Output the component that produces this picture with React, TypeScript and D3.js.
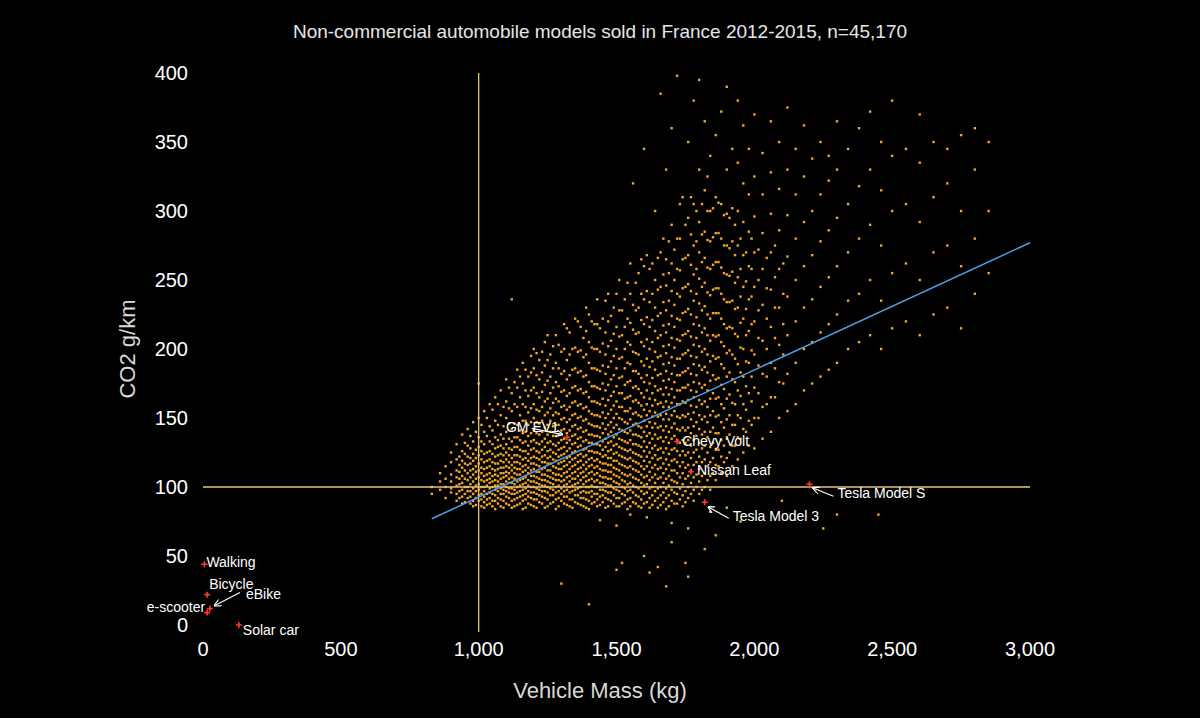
import React from "react";
import * as d3 from "d3";

// Vehicle mass columns (kg) with CO2 values (g/km)
const columns: [number, number[]][] = [
  [830, [95, 100]], [860, [98, 104, 110]], [880, [92, 100, 106, 115]],
  [900, [96, 99, 104, 109, 118, 125]], [920, [90, 95, 101, 107, 112, 120, 131]],
  [940, [88, 93, 98, 103, 108, 114, 119, 126, 138]], [960, [92, 97, 100, 105, 110, 116, 122, 130, 142]],
  [980, [86, 90, 95, 99, 104, 109, 113, 119, 124, 133, 147]], [1000, [90, 94, 98, 102, 107, 112, 117, 123, 129, 136, 150, 175]],
  [1020, [85, 89, 93, 97, 100, 104, 108, 113, 118, 124, 131, 140, 155]],
  [1040, [88, 92, 96, 99, 103, 106, 110, 115, 120, 126, 133, 144, 160]],
  [1060, [84, 90, 94, 98, 101, 105, 109, 112, 117, 122, 128, 136, 148, 165]],
  [1080, [86, 91, 95, 99, 102, 106, 110, 114, 119, 124, 130, 138, 152, 170]],
  [1100, [88, 93, 97, 100, 104, 108, 111, 115, 120, 125, 131, 140, 150, 162, 178]],
  [1120, [85, 90, 95, 99, 103, 107, 112, 116, 121, 127, 133, 142, 155, 168, 236]],
  [1140, [87, 92, 96, 100, 104, 109, 113, 118, 123, 129, 136, 145, 158, 172, 185]],
  [1160, [84, 90, 94, 98, 102, 106, 111, 115, 120, 126, 132, 139, 148, 160, 175, 190]],
  [1180, [88, 93, 97, 101, 105, 110, 114, 119, 124, 130, 137, 145, 154, 166, 180]],
  [1200, [86, 91, 96, 100, 104, 108, 113, 117, 122, 128, 134, 141, 150, 160, 172, 186, 200]],
  [1220, [89, 94, 98, 102, 106, 111, 115, 120, 125, 131, 138, 146, 155, 165, 178, 192]],
  [1240, [85, 92, 97, 101, 105, 109, 114, 118, 123, 129, 135, 143, 152, 162, 174, 188, 205]],
  [1260, [88, 94, 99, 103, 107, 112, 117, 122, 127, 133, 140, 148, 157, 168, 180, 196]],
  [1280, [84, 91, 96, 100, 105, 109, 114, 119, 124, 130, 137, 145, 154, 164, 176, 190, 210]],
  [1300, [90, 95, 99, 104, 108, 113, 118, 123, 128, 134, 141, 149, 158, 169, 182, 198]],
  [1320, [87, 93, 98, 102, 107, 111, 116, 121, 126, 132, 139, 147, 156, 166, 178, 192, 215]],
  [1340, [85, 91, 97, 101, 106, 110, 115, 120, 125, 131, 137, 144, 152, 161, 172, 185, 200]],
  [1360, [88, 94, 99, 103, 108, 113, 118, 123, 129, 135, 142, 150, 159, 170, 183, 198, 220]],
  [1380, [86, 92, 97, 102, 107, 111, 116, 122, 127, 133, 140, 148, 157, 168, 180, 194, 208]],
  [1400, [84, 90, 96, 100, 105, 110, 115, 120, 126, 132, 138, 146, 155, 165, 176, 190, 205, 225]],
  [1420, [89, 95, 100, 104, 109, 114, 119, 125, 131, 137, 144, 152, 162, 173, 186, 200, 218]],
  [1440, [87, 93, 98, 103, 108, 113, 118, 124, 130, 136, 143, 151, 160, 171, 184, 198, 215]],
  [1460, [85, 92, 97, 102, 107, 112, 117, 123, 129, 135, 142, 150, 159, 170, 182, 196, 212, 235]],
  [1480, [90, 96, 101, 106, 111, 116, 121, 127, 133, 140, 147, 156, 166, 178, 191, 206, 224]],
  [1500, [86, 92, 98, 103, 108, 113, 119, 125, 131, 138, 145, 153, 162, 173, 186, 200, 216, 240]],
  [1520, [88, 95, 100, 105, 110, 116, 122, 128, 134, 141, 149, 158, 168, 180, 194, 210, 228]],
  [1540, [84, 91, 97, 102, 108, 114, 120, 126, 132, 139, 146, 155, 165, 176, 190, 205, 222, 248]],
  [1560, [89, 96, 101, 107, 113, 119, 125, 131, 138, 145, 153, 162, 172, 184, 198, 214, 232, 320]],
  [1580, [86, 93, 99, 105, 111, 117, 123, 130, 137, 144, 152, 161, 171, 182, 196, 212, 230, 255]],
  [1600, [88, 95, 101, 107, 113, 119, 126, 133, 140, 148, 156, 165, 176, 188, 202, 218, 236, 260, 345]],
  [1620, [85, 92, 99, 105, 111, 118, 125, 132, 139, 147, 155, 164, 175, 187, 200, 216, 234, 258]],
  [1640, [90, 97, 103, 109, 116, 123, 130, 138, 146, 154, 163, 173, 185, 198, 213, 230, 250, 300]],
  [1660, [87, 94, 100, 107, 114, 121, 128, 136, 144, 152, 161, 171, 182, 195, 210, 226, 245, 270, 385]],
  [1680, [84, 92, 99, 106, 113, 120, 128, 136, 144, 153, 162, 172, 184, 197, 212, 228, 246, 265, 330]],
  [1700, [90, 98, 105, 112, 119, 127, 135, 143, 152, 161, 171, 182, 194, 208, 224, 242, 262, 290, 360]],
  [1720, [88, 95, 103, 110, 118, 126, 134, 142, 151, 160, 170, 181, 193, 207, 222, 240, 258, 280, 398]],
  [1740, [86, 94, 102, 110, 118, 126, 134, 143, 152, 162, 172, 183, 196, 210, 226, 244, 265, 310]],
  [1760, [92, 100, 108, 116, 125, 134, 143, 153, 163, 174, 186, 199, 213, 229, 247, 268, 295, 350]],
  [1780, [90, 98, 107, 116, 125, 134, 144, 154, 165, 176, 189, 203, 218, 235, 254, 275, 305, 380]],
  [1800, [95, 104, 113, 122, 132, 142, 152, 163, 175, 188, 202, 217, 233, 251, 270, 292, 330, 395]],
  [1820, [100, 110, 120, 130, 140, 151, 162, 174, 187, 200, 215, 231, 248, 266, 285, 315, 365]],
  [1840, [98, 108, 118, 129, 140, 152, 164, 177, 191, 206, 222, 239, 258, 278, 300, 340]],
  [1860, [105, 116, 127, 139, 151, 164, 178, 193, 209, 226, 244, 263, 284, 310, 355]],
  [1880, [110, 122, 134, 147, 160, 174, 189, 205, 222, 240, 259, 280, 305, 372]],
  [1900, [108, 121, 135, 149, 164, 180, 197, 215, 234, 254, 275, 298, 330, 390]],
  [1920, [115, 130, 145, 161, 178, 196, 215, 235, 256, 278, 302, 345]],
  [1940, [120, 136, 152, 170, 189, 209, 230, 252, 275, 300, 335, 380]],
  [1960, [125, 142, 160, 180, 200, 222, 245, 268, 292, 320, 362]],
  [1980, [130, 148, 168, 190, 213, 236, 260, 285, 312, 345]],
  [2000, [128, 150, 172, 196, 220, 245, 270, 296, 325, 370]],
  [2030, [135, 158, 182, 206, 232, 258, 284, 312, 342]],
  [2060, [140, 165, 190, 216, 243, 270, 298, 328, 365]],
  [2090, [150, 176, 203, 230, 258, 286, 316, 350]],
  [2120, [155, 182, 210, 238, 267, 297, 330, 375]],
  [2150, [160, 190, 220, 250, 280, 312, 345]],
  [2180, [170, 200, 230, 260, 292, 325, 362]],
  [2210, [175, 205, 236, 268, 300, 338]],
  [2240, [180, 212, 245, 278, 312, 350]],
  [2270, [185, 218, 252, 286, 322, 340]],
  [2300, [190, 225, 260, 295, 330, 365]],
  [2340, [200, 235, 270, 305, 345]],
  [2380, [205, 240, 280, 318, 360]],
  [2420, [210, 250, 290, 330, 372]],
  [2460, [200, 235, 275, 315, 350]],
  [2500, [215, 255, 300, 340, 380]],
  [2550, [220, 262, 305, 345]],
  [2600, [210, 250, 292, 335, 370]],
  [2650, [225, 270, 310, 350]],
  [2700, [230, 275, 320, 345]],
  [2750, [215, 260, 300, 355]],
  [2800, [240, 280, 330, 360]],
  [2850, [255, 300, 350]],
];
// further columns filling the dense core of the cloud
const coreColumns: [number, number[]][] = [
  [930, [92, 97, 102, 106, 111, 116, 122]], [950, [89, 95, 100, 106, 112, 117, 124, 132]],
  [970, [88, 93, 97, 102, 107, 112, 117, 121, 128, 137]], [990, [87, 92, 97, 101, 106, 111, 115, 121, 127, 140]],
  [1010, [86, 91, 95, 100, 105, 110, 114, 120, 126, 133, 145]], [1030, [87, 91, 95, 101, 105, 109, 114, 119, 125, 137, 150]],
  [1050, [86, 90, 95, 100, 104, 108, 113, 118, 124, 131, 141, 156]], [1070, [88, 92, 97, 101, 104, 108, 113, 117, 123, 129, 134, 145, 160]],
  [1090, [85, 90, 95, 98, 102, 107, 110, 114, 118, 123, 128, 135, 144, 158]], [1110, [87, 92, 96, 99, 103, 106, 110, 114, 118, 123, 128, 135, 146, 157, 172]],
  [1130, [86, 91, 95, 98, 102, 106, 110, 114, 118, 123, 129, 136, 146, 160, 176]], [1150, [88, 93, 97, 101, 105, 109, 113, 117, 122, 127, 134, 141, 152, 165, 180]],
  [1170, [85, 91, 95, 99, 103, 107, 112, 116, 121, 126, 133, 140, 148, 158, 170, 185]], [1190, [87, 92, 96, 100, 104, 108, 112, 117, 121, 127, 133, 139, 147, 157, 170, 183, 195]],
  [1210, [85, 91, 95, 99, 103, 107, 111, 116, 121, 126, 132, 139, 147, 156, 168, 181, 197]], [1230, [88, 93, 97, 101, 105, 109, 113, 118, 122, 127, 133, 140, 148, 158, 169, 183, 198]],
  [1250, [86, 91, 96, 100, 104, 108, 112, 117, 121, 126, 132, 138, 145, 154, 164, 177, 192, 210]], [1270, [89, 94, 98, 102, 106, 110, 115, 120, 125, 131, 137, 144, 152, 161, 172, 186, 202]],
  [1290, [86, 92, 97, 101, 105, 109, 113, 117, 122, 127, 132, 138, 145, 153, 162, 173, 186, 203]], [1310, [88, 93, 97, 101, 105, 110, 115, 119, 124, 129, 135, 142, 150, 159, 170, 184, 200, 218]],
  [1330, [86, 91, 96, 100, 104, 108, 113, 118, 122, 128, 134, 141, 149, 158, 168, 181, 196, 212]], [1350, [89, 94, 98, 102, 106, 111, 116, 121, 126, 132, 138, 145, 153, 162, 173, 186, 201, 222]],
  [1370, [87, 92, 96, 100, 105, 110, 114, 119, 124, 130, 136, 143, 151, 160, 171, 184, 199, 216]], [1390, [85, 91, 96, 100, 104, 108, 113, 118, 123, 128, 134, 141, 149, 158, 169, 181, 196, 213, 230]],
  [1410, [88, 93, 97, 101, 106, 111, 116, 121, 126, 132, 138, 145, 153, 162, 173, 186, 201, 220]], [1430, [86, 91, 95, 100, 105, 110, 115, 120, 125, 131, 137, 144, 152, 161, 172, 185, 200, 218, 236]],
  [1450, [89, 94, 98, 103, 107, 112, 117, 122, 127, 133, 139, 146, 154, 164, 175, 188, 204, 222]], [1470, [86, 91, 96, 101, 106, 111, 116, 121, 126, 132, 138, 145, 153, 163, 174, 187, 202, 220, 240]],
  [1490, [88, 94, 99, 104, 109, 114, 119, 124, 130, 136, 143, 150, 159, 169, 181, 195, 211, 230]], [1510, [86, 92, 97, 102, 107, 112, 117, 123, 129, 135, 142, 150, 158, 168, 179, 193, 209, 228, 250]],
  [1530, [89, 94, 99, 104, 109, 115, 121, 127, 133, 140, 147, 155, 164, 174, 186, 200, 216, 236]], [1550, [86, 92, 98, 103, 109, 115, 121, 127, 134, 141, 149, 157, 166, 177, 189, 203, 219, 240, 262]],
  [1570, [88, 94, 100, 106, 112, 118, 124, 131, 138, 146, 154, 163, 173, 184, 197, 211, 228, 248]], [1590, [85, 91, 97, 103, 109, 115, 122, 129, 136, 143, 151, 159, 168, 179, 191, 205, 221, 240, 265]],
  [1610, [89, 96, 102, 108, 115, 122, 129, 137, 144, 152, 160, 170, 181, 193, 207, 223, 242, 268]], [1630, [87, 94, 100, 107, 114, 121, 128, 135, 143, 151, 159, 168, 179, 191, 205, 221, 240, 262]],
  [1650, [85, 92, 99, 106, 113, 120, 127, 135, 143, 151, 160, 170, 181, 194, 208, 224, 243, 266]], [1670, [89, 96, 103, 110, 117, 125, 133, 141, 149, 158, 167, 177, 189, 202, 217, 234, 254, 280]],
  [1690, [86, 94, 101, 108, 116, 124, 132, 140, 149, 158, 167, 178, 190, 203, 218, 235, 255, 278]], [1710, [88, 96, 104, 112, 120, 128, 137, 146, 155, 165, 176, 188, 201, 216, 232, 250, 272]],
  [1730, [91, 99, 107, 115, 123, 132, 141, 150, 160, 170, 181, 193, 206, 221, 238, 257, 280, 305]], [1750, [89, 97, 106, 114, 123, 132, 141, 151, 161, 172, 184, 197, 211, 227, 245, 266, 290]],
  [1770, [95, 103, 112, 121, 130, 139, 149, 159, 170, 182, 195, 209, 225, 242, 261, 283, 310]], [1790, [100, 109, 118, 127, 137, 147, 158, 169, 181, 194, 208, 223, 240, 258, 278, 300]],
  [1810, [98, 108, 118, 128, 138, 149, 160, 172, 185, 198, 212, 228, 245, 263, 283, 305]], [1830, [105, 115, 125, 136, 147, 158, 170, 183, 196, 210, 225, 241, 259, 279, 300, 325]],
  [1850, [110, 121, 132, 143, 155, 168, 181, 195, 210, 226, 243, 261, 281, 302]], [1870, [115, 127, 139, 152, 165, 179, 194, 210, 226, 244, 263, 284, 306]],
  [1890, [118, 130, 143, 157, 171, 186, 202, 218, 236, 255, 275, 297]], [1910, [125, 138, 152, 167, 183, 199, 216, 234, 253, 273, 295]],
  [1930, [130, 145, 160, 176, 193, 211, 229, 248, 268, 290]], [1950, [135, 150, 166, 183, 201, 219, 238, 258, 280]],
  [1970, [140, 156, 173, 191, 210, 229, 249, 270]], [1990, [145, 162, 180, 199, 218, 238, 258, 280]],
  [2015, [150, 168, 188, 208, 228, 250, 272]], [2045, [160, 180, 200, 222, 244, 266]],
  [2075, [165, 186, 208, 230, 252, 275]], [2105, [175, 196, 218, 240, 262]],
];
// isolated low outliers
const outliers: [number, number][] = [
  [1300, 30], [1500, 40], [1520, 45], [1600, 50], [1650, 42], [1620, 38], [1700, 60], [1750, 45], [1820, 55], [1860, 65], [2300, 80], [2450, 80], [2250, 70], [1950, 75], [2100, 90], [1400, 15], [1680, 28], [1760, 35],
  [1440, 76], [1500, 72], [1550, 80], [1610, 78], [1700, 74], [1760, 70], [1840, 82], [1900, 85],
];

const special: { name: string; mass: number; co2: number }[] = [
  { name: "Walking", mass: 5, co2: 44 },
  { name: "Bicycle", mass: 15, co2: 22 },
  { name: "eBike", mass: 25, co2: 12 },
  { name: "e-scooter", mass: 15, co2: 9 },
  { name: "Solar car", mass: 130, co2: 0 },
  { name: "GM EV1", mass: 1320, co2: 136 },
  { name: "Chevy Volt", mass: 1720, co2: 133 },
  { name: "Nissan Leaf", mass: 1770, co2: 111 },
  { name: "Tesla Model 3", mass: 1820, co2: 89 },
  { name: "Tesla Model S", mass: 2200, co2: 102 },
];
const fitLine: [number, number][] = [[830, 77], [3000, 277]];
const xTicks = [0, 500, 1000, 1500, 2000, 2500, 3000];
const yTicks = [0, 50, 100, 150, 200, 250, 300, 350, 400];

export default function App() {
  const W = 1200, H = 718;
  const x = d3.scaleLinear().domain([0, 3000]).range([203, 1030]);
  const y = d3.scaleLinear().domain([0, 400]).range([625, 73]);
  const pts: [number, number][] = [];
  columns.forEach(([m, vs]) => vs.forEach((v) => pts.push([m, v])));
  coreColumns.forEach(([m, vs]) => vs.forEach((v) => pts.push([m, v])));
  outliers.forEach((p) => pts.push(p));
  const line = d3.line<[number, number]>().x((d) => x(d[0])).y((d) => y(d[1]));
  const font = "Helvetica, Arial, 'Liberation Sans', sans-serif";
  const sp = (n: string) => special.find((s) => s.name === n)!;
  const labels: { n: string; dx: number; dy: number; anchor: string }[] = [
    { n: "Walking", dx: 2, dy: -2, anchor: "start" },
    { n: "Bicycle", dx: 2, dy: -11, anchor: "start" },
    { n: "eBike", dx: 36, dy: -14, anchor: "start" },
    { n: "e-scooter", dx: -2, dy: -6, anchor: "end" },
    { n: "Solar car", dx: 4, dy: 5, anchor: "start" },
    { n: "GM EV1", dx: -8, dy: -10, anchor: "end" },
    { n: "Chevy Volt", dx: 5, dy: 0, anchor: "start" },
    { n: "Nissan Leaf", dx: 6, dy: -2, anchor: "start" },
    { n: "Tesla Model 3", dx: 28, dy: 14, anchor: "start" },
    { n: "Tesla Model S", dx: 28, dy: 9, anchor: "start" },
  ];
  const arrow = (x1: number, y1: number, x2: number, y2: number, k: string) => (
    <path key={k} d={`M${x1},${y1} L${x2},${y2}`} stroke="#fff" strokeWidth={1.2} fill="none" markerEnd="url(#ah)" />
  );
  return (
    <svg width={W} height={H} style={{ position: "absolute", left: 0, top: 0, background: "#000" }} fontFamily={font}>
      <defs>
        <marker id="ah" markerWidth="6" markerHeight="6" refX="5" refY="3" orient="auto">
          <path d="M0,0 L6,3 L0,6" fill="none" stroke="#fff" strokeWidth={1} />
        </marker>
      </defs>
      <rect width={W} height={H} fill="#000" />
      <text x={600} y={38} fill="#e6e6e6" fontSize={19} textAnchor="middle">Non-commercial automobile models sold in France 2012-2015, n=45,170</text>
      {pts.map((p, i) => (
        <rect key={i} x={x(p[0]) - 1.2} y={y(p[1]) - 1.2} width={2.4} height={2.4} fill="#f5a623" />
      ))}
      <line x1={x(1000)} x2={x(1000)} y1={y(400)} y2={y(-5)} stroke="#e8c27a" strokeWidth={1.3} />
      <line x1={x(0)} x2={x(3000)} y1={y(100)} y2={y(100)} stroke="#e8c27a" strokeWidth={1.3} />
      <path d={line(fitLine)!} stroke="#4a9fe8" strokeWidth={1.5} fill="none" />
      {special.map((s) => (
        <g key={s.name} transform={`translate(${x(s.mass)},${y(s.co2)})`}>
          <path d="M-3,0 H3 M0,-3 V3" stroke="#ff3b30" strokeWidth={1.6} />
        </g>
      ))}
      {labels.map((l) => {
        const s = sp(l.n);
        return (
          <text key={l.n} x={x(s.mass) + l.dx} y={y(s.co2) + l.dy + 5} fill="#fff" fontSize={14} textAnchor={l.anchor}>{l.n}</text>
        );
      })}
      {arrow(x(25) + 30, y(12) - 16, x(25) + 5, y(12) - 3, "a1")}
      {arrow(x(1320) - 35, y(136) - 9, x(1320) - 5, y(136) - 3, "a2")}
      {arrow(x(1820) + 24, y(89) + 16, x(1820) + 4, y(89) + 5, "a3")}
      {arrow(x(2200) + 24, y(102) + 12, x(2200) + 4, y(102) + 4, "a4")}
      {xTicks.map((t) => (
        <text key={t} x={x(t)} y={656} fill="#fff" fontSize={20} textAnchor="middle">{d3.format(",")(t)}</text>
      ))}
      {yTicks.map((t) => (
        <text key={t} x={188} y={y(t) + 7} fill="#fff" fontSize={20} textAnchor="end">{t}</text>
      ))}
      <text x={600} y={698} fill="#d9d9d9" fontSize={22} textAnchor="middle">Vehicle Mass (kg)</text>
      <text transform={`translate(135,${y(200)}) rotate(-90)`} fill="#d9d9d9" fontSize={22} textAnchor="middle">CO2 g/km</text>
    </svg>
  );
}
